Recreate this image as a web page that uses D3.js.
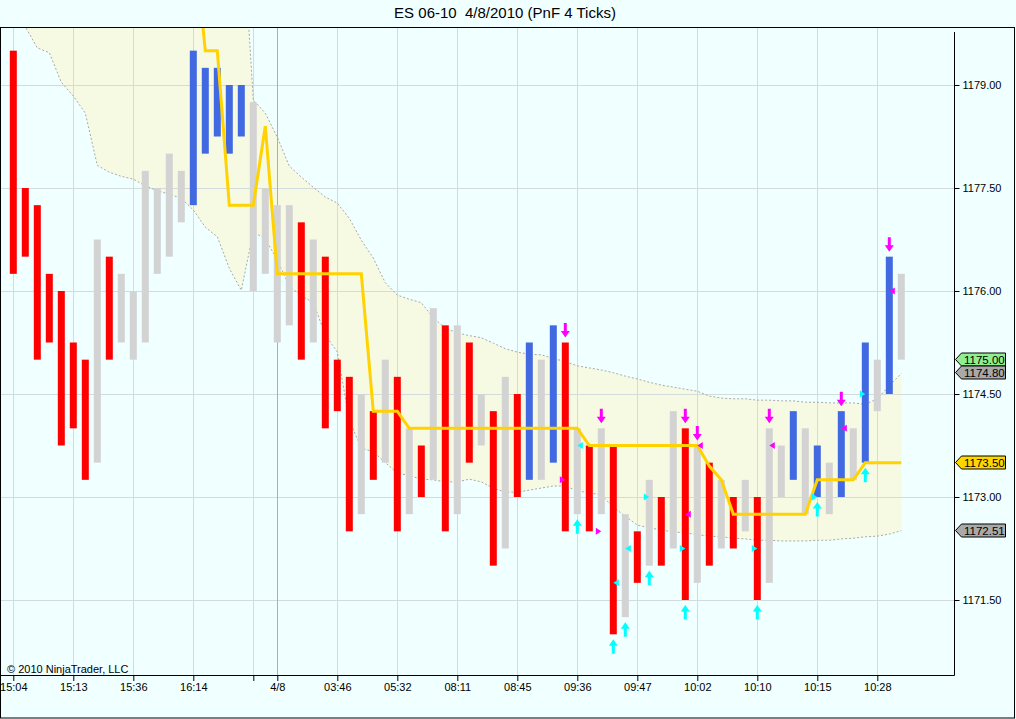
<!DOCTYPE html>
<html>
<head>
<meta charset="utf-8">
<script src="https://cdn.jsdelivr.net/npm/d3@7"></script>
<style>
  body { margin: 0; background: #f0ffff; }
  text { font-family: "Liberation Sans", Arial, sans-serif; }
</style>
</head>
<body>
<svg id="chart" width="1016" height="719"></svg>
<script>
// ---- data (one entry per PnF column) ----
var highs = [1179.5, 1177.5, 1177.25, 1176.25, 1176.0, 1175.25, 1175.0, 1176.75, 1176.5, 1176.25,
  1176.0, 1177.75, 1177.5, 1178.0, 1177.75, 1179.5, 1179.25, 1179.25, 1179.0, 1179.0,
  1178.75, 1177.5, 1177.25, 1177.25, 1177.0, 1176.75, 1176.5, 1175.0, 1174.75, 1174.5,
  1174.25, 1175.0, 1174.75, 1174.0, 1173.75, 1175.75, 1175.5, 1175.5, 1175.25, 1174.5,
  1174.25, 1174.75, 1174.5, 1175.25, 1175.0, 1175.5, 1175.25, 1174.0, 1173.75, 1174.0,
  1173.75, 1172.75, 1172.5, 1173.25, 1173.0, 1174.25, 1174.0, 1173.75, 1173.5, 1173.25,
  1173.0, 1173.25, 1173.0, 1174.0, 1173.75, 1174.25, 1174.0, 1173.75, 1173.5, 1174.25,
  1174.0, 1175.25, 1175.0, 1176.5, 1176.25];
var lows = [1176.25, 1176.5, 1175.0, 1175.25, 1173.75, 1174.0, 1173.25, 1173.5, 1175.0, 1175.25,
  1175.0, 1175.25, 1176.25, 1176.5, 1177.0, 1177.25, 1178.0, 1178.25, 1178.0, 1178.25,
  1176.0, 1176.25, 1175.25, 1175.5, 1175.0, 1175.25, 1174.0, 1174.25, 1172.5, 1172.75,
  1173.25, 1173.5, 1172.5, 1172.75, 1173.0, 1173.25, 1172.5, 1172.75, 1173.5, 1173.75,
  1172.0, 1172.25, 1173.0, 1173.25, 1173.25, 1173.5, 1172.5, 1172.75, 1172.5, 1172.75,
  1171.0, 1171.25, 1171.75, 1172.0, 1172.0, 1172.25, 1171.5, 1171.75, 1172.0, 1172.25,
  1172.25, 1172.5, 1171.5, 1171.75, 1173.0, 1173.25, 1172.75, 1173.0, 1172.75, 1173.0,
  1173.25, 1173.5, 1174.25, 1174.5, 1175.0];
// r = down column, b = up column, g = neutral
var barType = ("rrrrrrr" + "g" + "r" + "gggggg" + "bbbbb" + "gggg" + "r" + "g" + "rrr" +
  "grgrgrgrgrgrgr" + "bgbr" + "grgrgrgrgrgrgr" + "grg" + "g" + "bgbgbgbgbg").split("");

var trend = [null, null, null, null, null, null, null, null, null, null,
  null, null, null, null, null, 1181.25, 1179.5, 1179.5, 1177.25, 1177.25,
  1177.25, 1178.4, 1176.25, 1176.25, 1176.25, 1176.25, 1176.25, 1176.25, 1176.25, 1176.25,
  1174.25, 1174.25, 1174.25, 1174.0, 1174.0, 1174.0, 1174.0, 1174.0, 1174.0, 1174.0,
  1174.0, 1174.0, 1174.0, 1174.0, 1174.0, 1174.0, 1174.0, 1174.0, 1173.75, 1173.75,
  1173.75, 1173.75, 1173.75, 1173.75, 1173.75, 1173.75, 1173.75, 1173.75, 1173.45, 1173.25,
  1172.75, 1172.75, 1172.75, 1172.75, 1172.75, 1172.75, 1172.75, 1173.25, 1173.25, 1173.25,
  1173.25, 1173.5, 1173.5, 1173.5, 1173.5];

var bandUpper = [1182.5, 1182.5, 1182.4, 1182.4, 1182.3, 1182.3, 1182.2, 1182.2, 1182.1, 1182.1,
  1182.0, 1182.0, 1181.9, 1181.9, 1181.8, 1181.8, 1181.7, 1181.7, 1181.6, 1181.6,
  1178.78, 1178.59, 1178.24, 1177.82, 1177.66, 1177.51, 1177.37, 1177.28, 1177.06, 1176.74,
  1176.48, 1176.12, 1175.94, 1175.88, 1175.83, 1175.61, 1175.46, 1175.39, 1175.35, 1175.32,
  1175.24, 1175.16, 1175.11, 1175.08, 1175.07, 1175.02, 1174.97, 1174.91, 1174.88, 1174.85,
  1174.81, 1174.76, 1174.72, 1174.67, 1174.63, 1174.60, 1174.57, 1174.54, 1174.47, 1174.44,
  1174.43, 1174.43, 1174.41, 1174.41, 1174.40, 1174.40, 1174.38, 1174.38, 1174.37, 1174.37,
  1174.37, 1174.35, 1174.43, 1174.62, 1174.80];
var bandLower = [1180.5, 1179.85, 1179.54, 1179.47, 1179.04, 1178.84, 1178.59, 1177.83, 1177.73, 1177.67,
  1177.63, 1177.53, 1177.46, 1177.41, 1177.35, 1177.18, 1176.93, 1176.79, 1176.33, 1176.01,
  1176.86, 1176.76, 1176.45, 1176.07, 1175.93, 1175.83, 1175.36, 1175.11, 1174.12, 1173.71,
  1173.66, 1173.50, 1173.35, 1173.31, 1173.26, 1173.25, 1173.22, 1173.22, 1173.26, 1173.22,
  1173.13, 1173.07, 1173.07, 1173.10, 1173.13, 1173.16, 1173.16, 1173.09, 1173.06, 1173.03,
  1172.85, 1172.72, 1172.59, 1172.55, 1172.52, 1172.49, 1172.48, 1172.45, 1172.43, 1172.42,
  1172.40, 1172.39, 1172.37, 1172.37, 1172.36, 1172.36, 1172.36, 1172.37, 1172.37, 1172.39,
  1172.40, 1172.42, 1172.43, 1172.46, 1172.51];

var lastClose = 1175.00;

// signals (column index is zero based)
var sellArrows = [46, 49, 56, 57, 63, 69, 73];
var buyArrows = [47, 50, 51, 53, 56, 62, 67, 71];
var flags = [
  [46, 1173.25, "R", "m"], [47, 1173.75, "L", "c"], [49, 1172.5, "R", "m"],
  [50, 1171.75, "L", "c"], [51, 1172.25, "L", "c"], [53, 1173.0, "R", "c"],
  [56, 1172.75, "L", "m"], [56, 1172.25, "R", "c"], [57, 1173.75, "L", "m"],
  [62, 1172.25, "R", "c"], [63, 1173.75, "L", "m"], [67, 1173.0, "R", "c"],
  [69, 1174.0, "L", "m"], [71, 1174.5, "R", "c"], [73, 1176.0, "L", "m"]
];

var tickIdx = [0, 5, 10, 15, 20, 22, 27, 32, 37, 42, 47, 52, 57, 62, 67, 72];
var tickLabels = ["15:04", "15:13", "15:36", "16:14", "", "4/8", "03:46", "05:32", "08:11",
  "08:45", "09:36", "09:47", "10:02", "10:10", "10:15", "10:28"];
var dateBreak = 22;
var priceTicks = [1179.0, 1177.5, 1176.0, 1174.5, 1173.0, 1171.5];
var title = "ES 06-10  4/8/2010 (PnF 4 Ticks)";

// ---- layout ----
var plotLeft = 1, plotRight = 954, plotTop = 28, plotBottom = 675;
var colors = { r: "#ff0000", b: "#4169e1", g: "#d3d3d3", m: "#ff00ff", c: "#00ffff" };

var svg = d3.select("#chart");

var x = d3.scaleLinear().domain([0, 74]).range([13.3, 901.3]);
var y = d3.scaleLinear().domain([1171.5, 1179]).range([600, 85]);

svg.append("rect").attr("width", 1016).attr("height", 719).attr("fill", "#f0ffff");

svg.append("text")
  .attr("x", 505).attr("y", 18)
  .attr("text-anchor", "middle")
  .attr("font-size", 15)
  .style("white-space", "pre")
  .text(title);

svg.append("defs").append("clipPath").attr("id", "plotclip")
  .append("rect")
  .attr("x", plotLeft).attr("y", plotTop)
  .attr("width", plotRight - plotLeft).attr("height", plotBottom - plotTop);

var plot = svg.append("g").attr("clip-path", "url(#plotclip)");

// band fill
var idx = d3.range(highs.length);
plot.append("path")
  .datum(idx)
  .attr("fill", "#f6fae3")
  .attr("d", d3.area()
    .x(function (i) { return x(i); })
    .y0(function (i) { return y(bandLower[i]); })
    .y1(function (i) { return y(bandUpper[i]); }));

// grid
plot.selectAll(".vgrid")
  .data(tickIdx.filter(function (i) { return i !== dateBreak; }))
  .enter().append("line")
  .attr("x1", function (i) { return Math.round(x(i)) + 0.5; })
  .attr("x2", function (i) { return Math.round(x(i)) + 0.5; })
  .attr("y1", plotTop).attr("y2", plotBottom)
  .attr("stroke", "#d2dcdc").attr("stroke-width", 1);

plot.selectAll(".hgrid")
  .data(priceTicks)
  .enter().append("line")
  .attr("x1", plotLeft).attr("x2", plotRight)
  .attr("y1", function (d) { return Math.round(y(d)) + 0.5; })
  .attr("y2", function (d) { return Math.round(y(d)) + 0.5; })
  .attr("stroke", "#d2dcdc").attr("stroke-width", 1);

// band edges
[bandUpper, bandLower].forEach(function (band) {
  plot.append("path")
    .datum(idx)
    .attr("fill", "none")
    .attr("stroke", "#a8a8a8")
    .attr("stroke-width", 1)
    .attr("stroke-dasharray", "2,2")
    .attr("d", d3.line()
      .x(function (i) { return x(i); })
      .y(function (i) { return y(band[i]); }));
});

// session break
plot.append("line")
  .attr("x1", Math.round(x(dateBreak)) + 0.5).attr("x2", Math.round(x(dateBreak)) + 0.5)
  .attr("y1", plotTop).attr("y2", plotBottom)
  .attr("stroke", "#a9b0b0").attr("stroke-width", 1);

// columns
plot.selectAll(".bar")
  .data(idx)
  .enter().append("rect")
  .attr("class", "bar")
  .attr("x", function (i) { return x(i) - 3.5; })
  .attr("width", 7)
  .attr("y", function (i) { return y(highs[i]); })
  .attr("height", function (i) { return y(lows[i]) - y(highs[i]); })
  .attr("fill", function (i) { return colors[barType[i]]; });

// trend line
plot.append("path")
  .datum(idx)
  .attr("fill", "none")
  .attr("stroke", "#ffd200")
  .attr("stroke-width", 3)
  .attr("d", d3.line()
    .defined(function (i) { return trend[i] !== null; })
    .x(function (i) { return x(i); })
    .y(function (i) { return y(trend[i]); }));

// sell arrows (point down, above the column)
plot.selectAll(".sell")
  .data(sellArrows)
  .enter().append("path")
  .attr("fill", colors.m)
  .attr("d", function (i) {
    var cx = x(i), t = y(highs[i]) - 5;
    return "M" + cx + "," + t + "l4.5,-6.5h-3v-8h-3v8h-3z";
  });

// buy arrows (point up, below the column)
plot.selectAll(".buy")
  .data(buyArrows)
  .enter().append("path")
  .attr("fill", colors.c)
  .attr("d", function (i) {
    var cx = x(i), t = y(lows[i]) + 5;
    return "M" + cx + "," + t + "l4.5,6.5h-3v8h-3v-8h-3z";
  });

// small flag triangles
plot.selectAll(".flag")
  .data(flags)
  .enter().append("path")
  .attr("fill", function (d) { return colors[d[3]]; })
  .attr("d", function (d) {
    var cy = y(d[1]);
    if (d[2] === "L") {
      var bx = x(d[0]) + 5.5;
      return "M" + (bx - 5.5) + "," + cy + "L" + bx + "," + (cy - 3.5) + "L" + bx + "," + (cy + 3.5) + "Z";
    }
    var ax = x(d[0]) - 5.5;
    return "M" + (ax + 5.5) + "," + cy + "L" + ax + "," + (cy - 3.5) + "L" + ax + "," + (cy + 3.5) + "Z";
  });

// ---- axes ----
var xAxis = svg.append("g")
  .attr("transform", "translate(0," + plotBottom + ")")
  .call(d3.axisBottom(x)
    .tickValues(tickIdx)
    .tickSize(6)
    .tickFormat(function (d, k) { return tickLabels[k]; }));
xAxis.select(".domain").remove();
xAxis.selectAll("line").attr("stroke", "#000");
xAxis.selectAll("text").attr("font-size", 11).attr("font-family", "Liberation Sans, Arial, sans-serif")
  .attr("fill", "#000").attr("dy", "0.62em");
svg.append("line")
  .attr("x1", plotLeft).attr("x2", plotRight + 0.5)
  .attr("y1", plotBottom + 0.5).attr("y2", plotBottom + 0.5)
  .attr("stroke", "#000");

var yAxis = svg.append("g")
  .attr("transform", "translate(" + (plotRight + 0.5) + ",0)")
  .call(d3.axisRight(y)
    .tickValues(priceTicks)
    .tickSize(5)
    .tickPadding(3)
    .tickFormat(d3.format(".2f")));
yAxis.select(".domain").remove();
yAxis.selectAll("line").attr("stroke", "#000");
yAxis.selectAll("text").attr("font-size", 11).attr("font-family", "Liberation Sans, Arial, sans-serif")
  .attr("fill", "#000");
svg.append("line")
  .attr("x1", plotRight + 0.5).attr("x2", plotRight + 0.5)
  .attr("y1", 32).attr("y2", plotBottom + 0.5)
  .attr("stroke", "#000");

// last value markers on the price axis
var markers = [
  { v: lastClose, fill: "#90ee90" },
  { v: bandUpper[bandUpper.length - 1], fill: "#a9a9a9" },
  { v: trend[trend.length - 1], fill: "#ffd700" },
  { v: bandLower[bandLower.length - 1], fill: "#a9a9a9" }
];
var mk = svg.selectAll(".marker").data(markers).enter().append("g")
  .attr("transform", function (d) { return "translate(0," + (Math.round(y(d.v)) - 1) + ")"; });
mk.append("path")
  .attr("d", "M955.5,0.5L961.5,-6L1005.5,-6L1005.5,7L961.5,7Z")
  .attr("fill", function (d) { return d.fill; })
  .attr("stroke", "#000").attr("stroke-width", 1);
mk.append("text")
  .attr("x", 964).attr("y", 5)
  .attr("font-size", 11.5)
  .attr("fill", "#000")
  .text(function (d) { return d3.format(".2f")(d.v); });

svg.append("text")
  .attr("x", 7).attr("y", 673)
  .attr("font-size", 11)
  .text("\u00a9 2010 NinjaTrader, LLC");

// outer frame
svg.append("rect")
  .attr("x", 0.5).attr("y", 27.5)
  .attr("width", 1014).attr("height", 690.5)
  .attr("fill", "none").attr("stroke", "#000");
</script>
</body>
</html>
